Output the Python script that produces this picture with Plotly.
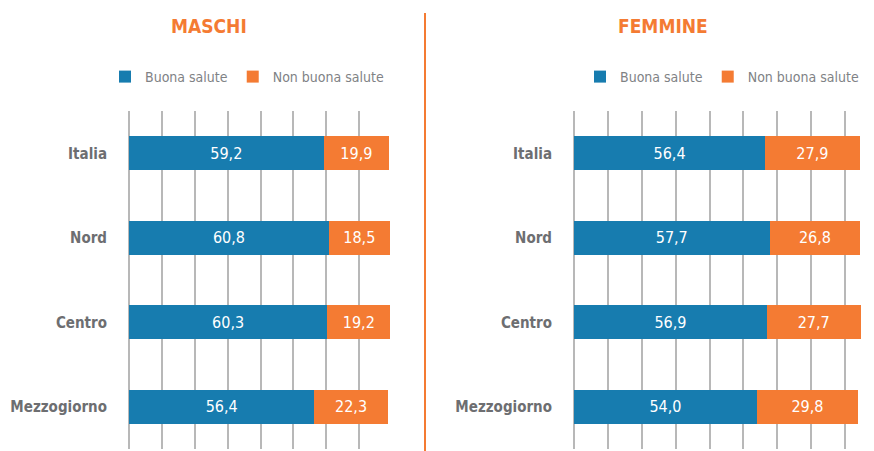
import plotly.graph_objects as go

regions = ["Italia", "Nord", "Centro", "Mezzogiorno"]
series_names = ["Buona salute", "Non buona salute"]
maschi_buona = [59.2, 60.8, 60.3, 56.4]
maschi_non = [19.9, 18.5, 19.2, 22.3]
femmine_buona = [56.4, 57.7, 56.9, 54.0]
femmine_non = [27.9, 26.8, 27.7, 29.8]
panel_titles = ["MASCHI", "FEMMINE"]
x_ticks = [0, 10, 20, 30, 40, 50, 60, 70, 80]

BLUE = "#177CAF"
ORANGE = "#F47B33"
GRID = "#B8B8B8"
LABEL = "#6D6E71"
LEG = "#808285"
FONT = "DejaVu Sans Condensed, Liberation Sans Narrow, sans-serif"

W, H = 874, 451

fig = go.Figure()

panels = [
    ("x", "y", "legend", maschi_buona, maschi_non),
    ("x2", "y2", "legend2", femmine_buona, femmine_non),
]
for xa, ya, leg, buona, non in panels:
    for name, vals, col in [(series_names[0], buona, BLUE), (series_names[1], non, ORANGE)]:
        fig.add_trace(go.Bar(
            y=regions, x=vals, name=name, orientation="h",
            xaxis=xa, yaxis=ya, legend=leg,
            marker=dict(color=col, line=dict(width=0)),
            width=0.4,
            texttemplate="%{x:.1f}", textposition="inside",
            insidetextanchor="middle",
            textfont=dict(color="white", size=16, family=FONT),
            hoverinfo="skip",
        ))

ydom = [1 - 449 / H, 1 - 111 / H]
common_x = dict(
    tickvals=x_ticks, showticklabels=False, showgrid=True,
    gridcolor=GRID, gridwidth=1.5, zeroline=True, zerolinecolor=GRID,
    zerolinewidth=1.5, showline=False, ticks="", fixedrange=True,
)
common_y = dict(
    categoryorder="array", categoryarray=regions, autorange=False,
    range=[3.5, -0.5], domain=ydom, showgrid=False, zeroline=False,
    showline=False, ticks="", ticklabelstandoff=21, fixedrange=True,
    tickfont=dict(family=FONT, size=15, color=LABEL, weight="bold"),
)
leg_common = dict(orientation="h", y=1 - 77 / H, yanchor="middle", xanchor="left",
                  font=dict(family=FONT, size=14, color=LEG), bgcolor="rgba(0,0,0,0)",
                  traceorder="normal", itemclick=False, itemdoubleclick=False)

fig.update_layout(
    width=W, height=H,
    margin=dict(l=0, r=0, t=0, b=0),
    plot_bgcolor="white", paper_bgcolor="white",
    barmode="stack",
    separators=",.",
    showlegend=True,
    xaxis=dict(domain=[129 / W, 392 / W], range=[0, 80], anchor="y", **common_x),
    xaxis2=dict(domain=[574 / W, 862 / W], range=[0, 85], anchor="y2", **common_x),
    yaxis=dict(anchor="x", **common_y),
    yaxis2=dict(anchor="x2", **common_y),
    legend=dict(x=105 / W, **leg_common),
    legend2=dict(x=580 / W, **leg_common),
    shapes=[dict(type="line", xref="paper", yref="paper", x0=425 / W, x1=425 / W,
                 y0=0, y1=1 - 13 / H, line=dict(color=ORANGE, width=2))],
    annotations=[
        dict(text=panel_titles[0], x=209 / W, y=1 - 26 / H, xref="paper", yref="paper",
             showarrow=False, xanchor="center", yanchor="middle",
             font=dict(family=FONT, size=19, color=ORANGE, weight="bold")),
        dict(text=panel_titles[1], x=663 / W, y=1 - 26 / H, xref="paper", yref="paper",
             showarrow=False, xanchor="center", yanchor="middle",
             font=dict(family=FONT, size=19, color=ORANGE, weight="bold")),
    ],
)

fig.write_html("out.html", config={"displayModeBar": False},
               post_script="document.body.style.margin='0';")
